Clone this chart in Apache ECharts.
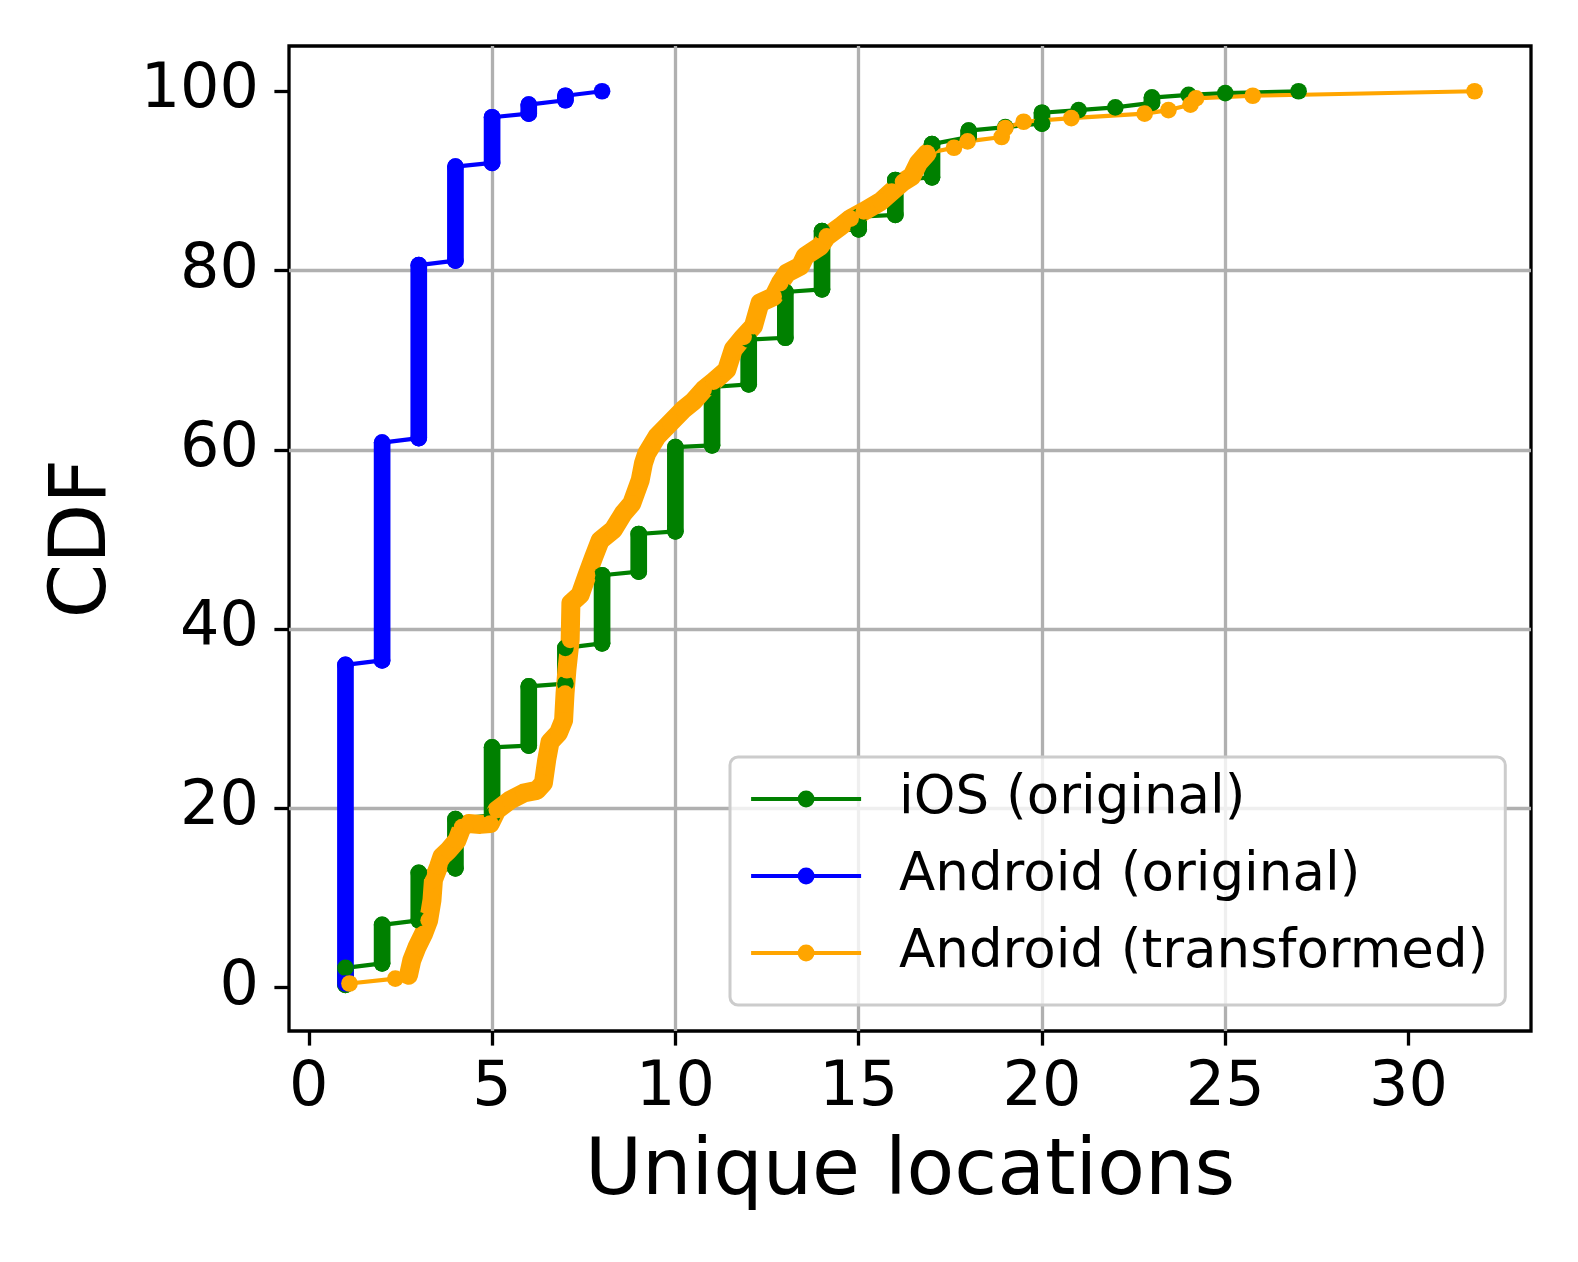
<!DOCTYPE html>
<html><head><meta charset="utf-8">
<script src="https://cdn.jsdelivr.net/npm/echarts@6/dist/echarts.min.js"></script>
<style>html,body{margin:0;padding:0;background:#fff}#c{width:1578px;height:1262px}</style>
</head><body><div id="c"></div>
<script>
// ---- tick labels ----
const xTicks = [0, 5, 10, 15, 20, 25, 30];
const yTicks = [0, 20, 40, 60, 80, 100];

// ---- iOS (original): CDF runs at each integer value (x, lowest CDF, highest CDF) ----
const iosX    = [1, 2, 3, 4, 5, 6, 7, 8, 9, 10, 11, 12, 13, 14, 15, 16, 17, 18, 19, 20, 21, 22, 23, 24, 25, 27];
const iosLow  = [0.3, 2.7, 7.5, 13.3, 19.2, 27.0, 33.9, 38.4, 46.4, 50.9, 60.5, 67.3, 72.5, 77.9, 84.6, 86.2, 90.4, 94.9, 96.0, 96.4, 97.9, 98.2, 98.7, 99.6, 99.8, 100];
const iosHigh = [2.2, 7.0, 12.8, 18.8, 26.8, 33.6, 37.9, 46.0, 50.6, 60.3, 67.0, 72.3, 77.6, 84.4, 86.0, 90.1, 94.1, 95.6, 96.0, 97.6, 97.9, 98.2, 99.3, 99.6, 99.8, 100];

// ---- Android (original) ----
const andX    = [1, 2, 3, 4, 5, 6, 7, 8];
const andLow  = [0.45, 36.5, 61.3, 81.1, 92.0, 97.5, 99.0, 100];
const andHigh = [36.0, 60.8, 80.6, 91.6, 97.1, 98.5, 99.5, 100];

// ---- Android (transformed): points along the CDF ----
const trX = [1.11, 2.36,
  2.72, 2.81, 2.95, 3.13, 3.27, 3.36, 3.40, 3.54, 3.63, 3.81, 4.04, 4.18, 4.36, 4.68, 4.95, 5.13, 5.49, 5.86, 6.22, 6.40, 6.49, 6.58, 6.81, 6.95, 6.99, 7.04, 7.13, 7.15, 7.40, 7.59, 7.77, 7.95, 8.31, 8.58, 8.81, 9.04, 9.13, 9.22, 9.50, 9.86, 10.22, 10.49, 10.77, 11.04, 11.40, 11.58, 11.86, 12.13, 12.31, 12.68, 12.86, 13.04, 13.41, 13.54, 13.95, 14.13, 14.50, 14.78, 15.14, 15.60, 15.90, 16.21, 16.45, 16.63, 16.87,
  17.6, 17.97, 18.9, 19.0, 19.5, 20.8, 22.8, 23.45, 24.05, 24.2, 25.75, 31.8];
const trY = [0.45, 1.0,
  1.37, 3.05, 4.5, 6.0, 7.5, 9.75, 12.0, 13.5, 14.6, 15.3, 16.4, 17.9, 18.3, 18.2, 18.3, 19.8, 20.9, 21.7, 22.0, 22.8, 25.4, 27.4, 28.4, 29.8, 32.8, 35.4, 38.8, 42.9, 43.8, 46.0, 48.0, 49.9, 51.1, 52.9, 54.0, 56.6, 58.5, 59.6, 61.5, 63.0, 64.5, 65.4, 66.7, 67.6, 68.9, 71.2, 72.6, 73.8, 76.4, 77.1, 78.6, 79.7, 80.5, 81.6, 82.7, 83.8, 84.9, 85.8, 86.6, 87.7, 88.8, 89.9, 90.5, 92.0, 93.1,
  93.7, 94.4, 94.9, 95.9, 96.6, 97.0, 97.5, 97.9, 98.5, 99.2, 99.5, 100];
const trDenseFrom = 2, trDenseTo = 66; // index range where samples are packed densely

const names = ['iOS (original)', 'Android (original)', 'Android (transformed)'];
const colors = ['#008000', '#0000ff', '#ffa500'];
const FONT = 'DejaVu Sans';
const MS = 16.7, LW = 4.2;

function runPoints(xs, lo, hi) {
  const pts = [];
  xs.forEach((x, i) => { pts.push([x, lo[i]]); if (hi[i] !== lo[i]) pts.push([x, hi[i]]); });
  return pts;
}
function runBars(xs, lo, hi) {
  const pts = [];
  xs.forEach((x, i) => { if (hi[i] !== lo[i]) { pts.push([x, lo[i]], [x, hi[i]], [x, '-']); } });
  return pts;
}
const trPts = trX.map((x, i) => [x, trY[i]]);
const trDense = trPts.slice(trDenseFrom, trDenseTo + 1);

function thin(name, data, color) {
  return { name, type: 'line', data, symbol: 'circle', symbolSize: MS, showSymbol: true,
    lineStyle: { width: LW, color }, itemStyle: { color, borderWidth: 0 }, silent: true, animation: false };
}
function thick(name, data, color, w) {
  return { name: name + ' band', type: 'line', data, symbol: 'none', showSymbol: false, connectNulls: false,
    lineStyle: { width: w, color, cap: 'round', join: 'round' }, silent: true, animation: false };
}

const chart = echarts.init(document.getElementById('c'), null, { renderer: 'canvas' });
chart.setOption({
  backgroundColor: '#fff',
  animation: false,
  grid: { left: 289, top: 46, width: 1242, height: 985, show: true, borderColor: '#000', borderWidth: 3.3, backgroundColor: 'transparent' },
  legend: {
    data: names, orient: 'vertical', left: 730, top: 757,
    itemWidth: 110, itemHeight: 21, itemGap: 17,
    padding: [12, 17, 22, 19],
    backgroundColor: 'rgba(255,255,255,0.8)', borderColor: '#cccccc', borderWidth: 3, borderRadius: 8,
    lineStyle: { width: LW },
    textStyle: { fontFamily: FONT, fontSize: 53, color: '#000', lineHeight: 60, padding: [0, 0, 0, 33] },
    selectedMode: false
  },
  xAxis: {
    type: 'value', min: -0.54, max: 33.34, minInterval: 5, maxInterval: 5,
    name: 'Unique locations', nameLocation: 'middle', nameGap: 104,
    nameTextStyle: { fontFamily: FONT, fontSize: 78, color: '#000' },
    axisLine: { show: false, onZero: false },
    axisTick: { show: true, inside: false, length: 14.6, lineStyle: { color: '#000', width: 3.3 }, customValues: xTicks },
    axisLabel: { fontFamily: FONT, fontSize: 62, color: '#000', margin: 27, customValues: xTicks },
    splitLine: { show: true, showMinLine: false, showMaxLine: false, lineStyle: { color: '#b0b0b0', width: 3.3 } }
  },
  yAxis: {
    type: 'value', min: -4.85, max: 105.05, minInterval: 20, maxInterval: 20,
    name: 'CDF', nameLocation: 'middle', nameGap: 165,
    nameTextStyle: { fontFamily: FONT, fontSize: 78, color: '#000' },
    axisLine: { show: false, onZero: false },
    axisTick: { show: true, inside: false, length: 14.6, lineStyle: { color: '#000', width: 3.3 }, customValues: yTicks },
    axisLabel: { fontFamily: FONT, fontSize: 62, color: '#000', margin: 30, customValues: yTicks },
    splitLine: { show: true, showMinLine: false, showMaxLine: false, lineStyle: { color: '#b0b0b0', width: 3.3 } }
  },
  series: [
    thin(names[0], runPoints(iosX, iosLow, iosHigh), colors[0]),
    thick(names[0], runBars(iosX, iosLow, iosHigh), colors[0], MS),
    thin(names[1], runPoints(andX, andLow, andHigh), colors[1]),
    thick(names[1], runBars(andX, andLow, andHigh), colors[1], MS),
    thin(names[2], trPts, colors[2]),
    thick(names[2], trDense, colors[2], 19)
  ]
});
</script></body></html>
